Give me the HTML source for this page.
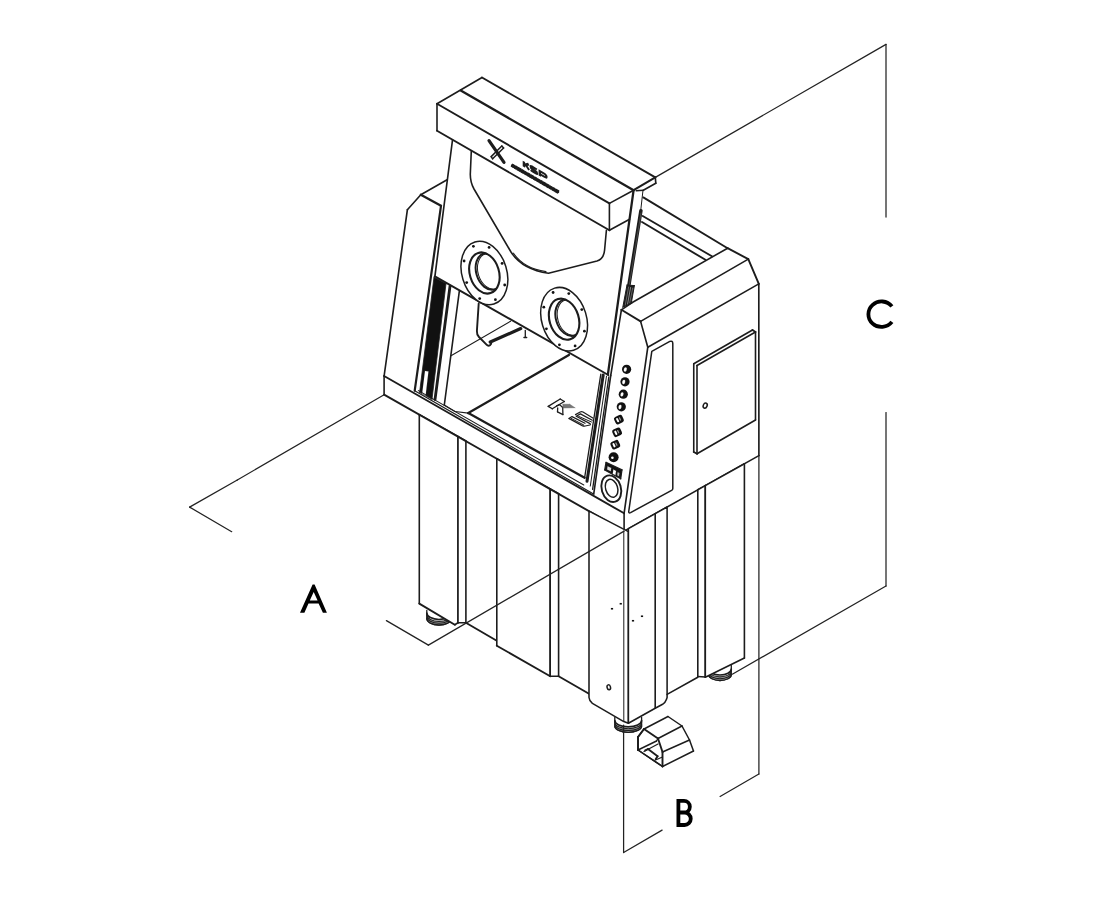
<!DOCTYPE html>
<html><head><meta charset="utf-8"><title>Dimensions</title>
<style>
html,body{margin:0;padding:0;background:#fff;}
body{width:1099px;height:900px;overflow:hidden;font-family:"Liberation Sans",sans-serif;}
svg{display:block}
</style></head><body>
<svg width="1099" height="900" viewBox="0 0 1099 900" fill="none" stroke="#1c1c1c" stroke-width="1.55" stroke-linecap="round" stroke-linejoin="round">
<line x1="437" y1="130.75" x2="437" y2="103.75" stroke-width="1.6"/>
<line x1="437" y1="103.75" x2="482" y2="77.5" stroke-width="1.6"/>
<line x1="482" y1="77.5" x2="655.3" y2="177.4" stroke-width="1.9"/>
<line x1="655.3" y1="177.4" x2="655.8" y2="183.2" stroke-width="1.65"/>
<line x1="655.8" y1="183.2" x2="643.3" y2="190.3" stroke-width="1.6"/>
<line x1="643.3" y1="190.3" x2="636.2" y2="190.8" stroke-width="1.5"/>
<line x1="437" y1="103.75" x2="609.4" y2="203.4" stroke-width="1.9"/>
<line x1="437" y1="130.75" x2="609.4" y2="230.3" stroke-width="1.9"/>
<line x1="609.4" y1="203.4" x2="609.4" y2="230.3" stroke-width="1.6"/>
<line x1="609.4" y1="203.4" x2="633.6" y2="190.2" stroke-width="1.6"/>
<line x1="633.6" y1="190.2" x2="655.3" y2="177.4" stroke-width="2.1"/>
<line x1="460.75" y1="90.5" x2="633.6" y2="190.2" stroke-width="2.3"/>
<line x1="609.4" y1="230.3" x2="629.6" y2="219.2" stroke-width="1.6"/>
<line x1="452.5" y1="140" x2="434.9" y2="276.4" stroke-width="1.65"/>
<line x1="434.9" y1="276.4" x2="608.3" y2="375" stroke-width="1.9"/>
<line x1="633.6" y1="190.2" x2="607.9" y2="374.4" stroke-width="2.3"/>
<line x1="642.9" y1="191" x2="640.7" y2="210.7" stroke-width="1.0"/>
<line x1="640.9" y1="210.7" x2="628.9" y2="285.3" stroke-width="3.5"/>
<line x1="641.0" y1="213" x2="629.3" y2="285.0" stroke-width="0.5" stroke="#777"/>
<polygon points="627.0,285.0 634.4,285.6 631.2,303.5 622.8,307.2" fill="#1a1a1a" stroke="none"/>
<line x1="627.0" y1="285.0" x2="634.4" y2="285.6" stroke-width="1.0"/>
<line x1="634.4" y1="285.6" x2="631.2" y2="303.5" stroke-width="1.0"/>
<line x1="631.2" y1="303.5" x2="622.8" y2="307.2" stroke-width="1.0"/>
<line x1="622.8" y1="307.2" x2="627.0" y2="285.0" stroke-width="1.0"/>
<line x1="630.6" y1="287.5" x2="627.6" y2="304.0" stroke-width="0.7" stroke="#bbb"/>
<line x1="632.7" y1="288.0" x2="629.7" y2="303.0" stroke-width="0.6" stroke="#999"/>
<line x1="628.6" y1="287.0" x2="625.3" y2="305.0" stroke-width="0.6" stroke="#999"/>
<path d="M471.3,151 L470.3,174 Q470.2,182 474,189 L511,252 Q522,269.5 548.5,273.2 L597,261 Q603.8,259 604.6,250 L606.4,230.3" stroke-width="1.6"/>
<path d="M513.5,253.2 Q523.3,268.2 546,271.6" stroke-width="1.1"/>
<line x1="447.1" y1="179.8" x2="420.8" y2="194.8" stroke-width="1.6"/>
<line x1="420.8" y1="194.8" x2="407.4" y2="209.7" stroke-width="1.6"/>
<line x1="407.4" y1="209.7" x2="384.1" y2="376" stroke-width="1.65"/>
<line x1="384.1" y1="376" x2="384.1" y2="394.7" stroke-width="1.6"/>
<line x1="420.8" y1="194.8" x2="441" y2="205.8" stroke-width="2.3"/>
<line x1="441" y1="205.8" x2="414.7" y2="390.7" stroke-width="2.2"/>
<line x1="643.3" y1="197.4" x2="727.6" y2="248.2" stroke-width="1.9"/>
<line x1="727.6" y1="248.2" x2="748.3" y2="259.1" stroke-width="1.9"/>
<line x1="642.7" y1="216" x2="711.9" y2="256.2" stroke-width="1.9"/>
<line x1="642" y1="222" x2="705.4" y2="259.8" stroke-width="1.9"/>
<line x1="621.4" y1="309.8" x2="631.8" y2="302.8" stroke-width="1.6"/>
<line x1="631.8" y1="302.8" x2="727.6" y2="248.2" stroke-width="1.6"/>
<line x1="621.4" y1="309.8" x2="640.6" y2="321.4" stroke-width="1.9"/>
<line x1="640.6" y1="321.4" x2="748.3" y2="259.1" stroke-width="1.6"/>
<line x1="748.3" y1="259.1" x2="758.8" y2="283.9" stroke-width="1.9"/>
<line x1="758.8" y1="283.9" x2="758.9" y2="455.6" stroke-width="1.65"/>
<line x1="640.6" y1="321.4" x2="647.8" y2="347.2" stroke-width="1.65"/>
<line x1="647.8" y1="347.2" x2="758.8" y2="283.9" stroke-width="1.6"/>
<line x1="647.8" y1="347.2" x2="624.1" y2="513.3" stroke-width="1.65"/>
<line x1="624.1" y1="513.3" x2="624.1" y2="531.1" stroke-width="1.6"/>
<line x1="624.1" y1="531.1" x2="758.9" y2="455.6" stroke-width="1.6"/>
<line x1="621.4" y1="309.8" x2="610.7" y2="375.6" stroke-width="1.65"/>
<line x1="610.7" y1="375.6" x2="593.75" y2="493.75" stroke-width="1.65"/>
<path d="M651.8,351.3 L669.8,341.4 Q672.7,340.4 672.8,343.6 L672.8,488.4 Q672.8,489.6 671.6,490.3 L630.6,512.6 Q628.4,513.6 628.8,511 Z" stroke-width="1.5"/>
<line x1="693.75" y1="363.75" x2="752.5" y2="330" stroke-width="1.6"/>
<line x1="752.5" y1="330" x2="755.5" y2="332" stroke-width="1.9"/>
<line x1="755.5" y1="332" x2="755.5" y2="420" stroke-width="1.6"/>
<line x1="755.5" y1="420" x2="697" y2="453.75" stroke-width="1.6"/>
<line x1="697" y1="453.75" x2="693.75" y2="452" stroke-width="1.9"/>
<line x1="693.75" y1="452" x2="693.75" y2="363.75" stroke-width="1.6"/>
<line x1="755.5" y1="332" x2="697" y2="365.5" stroke-width="1.6"/>
<line x1="697" y1="365.5" x2="697" y2="453.75" stroke-width="1.6"/>
<ellipse cx="705.2" cy="405.6" rx="1.9" ry="2.6" transform="rotate(25 705.2 405.6)" stroke-width="1.5"/>
<line x1="384.1" y1="376" x2="624.1" y2="513.3" stroke-width="1.9"/>
<line x1="384.1" y1="394.7" x2="624.1" y2="531.1" stroke-width="1.9"/>
<ellipse cx="484.4" cy="273.0" rx="22.4" ry="32.5" transform="rotate(-17 484.4 273.0)" stroke-width="1.5" fill="#fff"/>
<ellipse cx="484.4" cy="273.0" rx="14.6" ry="21.0" transform="rotate(-17 484.4 273.0)" stroke-width="2.1"/>
<clipPath id="cp484"><ellipse cx="484.4" cy="273.0" rx="14.6" ry="21.0" transform="rotate(-17 484.4 273.0)"/></clipPath>
<g clip-path="url(#cp484)">
<ellipse cx="489.4" cy="271.4" rx="13.2" ry="18.8" transform="rotate(-17 489.4 271.4)" stroke-width="2.0"/>
<ellipse cx="491.0" cy="271.3" rx="13.0" ry="18.3" transform="rotate(-17 491.0 271.3)" stroke-width="1.0"/>
</g>
<circle cx="502.1" cy="263.4" r="1.4" fill="#111" stroke="none"/>
<circle cx="504.7" cy="285.0" r="1.4" fill="#111" stroke="none"/>
<circle cx="495.4" cy="299.7" r="1.4" fill="#111" stroke="none"/>
<circle cx="479.7" cy="298.6" r="1.4" fill="#111" stroke="none"/>
<circle cx="466.7" cy="282.6" r="1.4" fill="#111" stroke="none"/>
<circle cx="464.1" cy="261.0" r="1.4" fill="#111" stroke="none"/>
<circle cx="473.4" cy="246.3" r="1.4" fill="#111" stroke="none"/>
<circle cx="489.1" cy="247.4" r="1.4" fill="#111" stroke="none"/>
<ellipse cx="564.1" cy="319.2" rx="22.4" ry="32.5" transform="rotate(-17 564.1 319.2)" stroke-width="1.5" fill="#fff"/>
<ellipse cx="564.1" cy="319.2" rx="14.6" ry="21.0" transform="rotate(-17 564.1 319.2)" stroke-width="2.1"/>
<clipPath id="cp564"><ellipse cx="564.1" cy="319.2" rx="14.6" ry="21.0" transform="rotate(-17 564.1 319.2)"/></clipPath>
<g clip-path="url(#cp564)">
<ellipse cx="569.1" cy="317.59999999999997" rx="13.2" ry="18.8" transform="rotate(-17 569.1 317.59999999999997)" stroke-width="2.0"/>
<ellipse cx="570.7" cy="317.5" rx="13.0" ry="18.3" transform="rotate(-17 570.7 317.5)" stroke-width="1.0"/>
</g>
<circle cx="581.8" cy="309.6" r="1.4" fill="#111" stroke="none"/>
<circle cx="584.4" cy="331.2" r="1.4" fill="#111" stroke="none"/>
<circle cx="575.1" cy="345.9" r="1.4" fill="#111" stroke="none"/>
<circle cx="559.4" cy="344.8" r="1.4" fill="#111" stroke="none"/>
<circle cx="546.4" cy="328.8" r="1.4" fill="#111" stroke="none"/>
<circle cx="543.8" cy="307.2" r="1.4" fill="#111" stroke="none"/>
<circle cx="553.1" cy="292.5" r="1.4" fill="#111" stroke="none"/>
<circle cx="568.8" cy="293.6" r="1.4" fill="#111" stroke="none"/>
<line x1="489.0" y1="140.6" x2="504.0" y2="162.4" stroke-width="3.2"/>
<line x1="491.2" y1="156.6" x2="501.8" y2="146.0" stroke-width="1.5"/>
<line x1="492.6" y1="158.8" x2="503.6" y2="148.0" stroke-width="1.5"/>
<line x1="491.2" y1="156.6" x2="492.6" y2="158.8" stroke-width="1.5"/>
<line x1="501.8" y1="146.0" x2="503.6" y2="148.0" stroke-width="1.5"/>
<g transform="matrix(1 0.577 0 1 523.2 166.6)" stroke-width="2.4" stroke-linecap="butt" stroke-linejoin="miter"><path d="M0.7,0 V-5.6 M0.7,-2.0 L5.6,-5.6 M2.4,-3.3 L5.9,0"/><path d="M13.6,-4.9 Q13.2,-5.1 11,-5.1 H9.2 Q7.6,-5.1 7.6,-3.9 Q7.6,-2.8 9.2,-2.8 H12.2 Q13.8,-2.8 13.8,-1.6 Q13.8,-0.5 12.2,-0.5 H10 Q8,-0.5 7.5,-0.8"/><path d="M16.6,0 V-5.1 H21 Q23.2,-5.1 23.2,-3.6 Q23.2,-2.1 21,-2.1 H16.6"/></g>
<line x1="512.2" y1="165.5" x2="558.0" y2="191.8" stroke-width="2.6"/>
<line x1="511.5" y1="165.0" x2="558.6" y2="192.2" stroke-width="3.6" stroke-dasharray="3.4 0.35 2.6 0.3 4.2 0.35 3 0.3" stroke-linecap="butt"/>
<polygon points="434.0,277.2 446.0,283.6 432.0,399.3 419.6,392.3" fill="#111" stroke="none"/>
<line x1="434.0" y1="277.2" x2="446.0" y2="283.6" stroke-width="0.8"/>
<line x1="446.0" y1="283.6" x2="432.0" y2="399.3" stroke-width="0.8"/>
<line x1="432.0" y1="399.3" x2="419.6" y2="392.3" stroke-width="0.8"/>
<line x1="419.6" y1="392.3" x2="434.0" y2="277.2" stroke-width="0.8"/>
<polygon points="425.0,371.0 428.4,371.5 425.6,395.5 422.2,393.8" fill="#fff" stroke="none"/>
<line x1="425.0" y1="371.0" x2="428.4" y2="371.5" stroke-width="0.1" stroke="#fff"/>
<line x1="428.4" y1="371.5" x2="425.6" y2="395.5" stroke-width="0.1" stroke="#fff"/>
<line x1="425.6" y1="395.5" x2="422.2" y2="393.8" stroke-width="0.1" stroke="#fff"/>
<line x1="422.2" y1="393.8" x2="425.0" y2="371.0" stroke-width="0.1" stroke="#fff"/>
<line x1="450.0" y1="286.2" x2="435.0" y2="399.5" stroke-width="2.8"/>
<line x1="459.3" y1="291.3" x2="444.3" y2="405.0" stroke-width="1.6"/>
<line x1="451.0" y1="355.7" x2="510.6" y2="321.2" stroke-width="1.1"/>
<path d="M478.7,303.5 L476.9,331 Q476.7,334.5 479,337 L486.5,344.7 Q488.2,346.6 490,345.3 L491.2,343.6" stroke-width="1.9"/>
<line x1="490.3" y1="342.0" x2="520.7" y2="328.6" stroke-width="3.3"/>
<line x1="525.3" y1="330.5" x2="525.3" y2="337.0" stroke-width="1.3"/>
<line x1="524.0" y1="337.6" x2="526.6" y2="337.6" stroke-width="1.5"/>
<line x1="468.3" y1="413.1" x2="568.9" y2="354.9" stroke-width="2.3"/>
<line x1="468.3" y1="413.1" x2="584.6" y2="477.8" stroke-width="2.3"/>
<line x1="584.6" y1="477.8" x2="600.8" y2="374.2" stroke-width="1.3"/>
<line x1="414.7" y1="390.7" x2="594.0" y2="494.2" stroke-width="1.15"/>
<line x1="418.4" y1="390.6" x2="583.8" y2="485.0" stroke-width="1.05"/>
<line x1="444.3" y1="405.0" x2="455" y2="411.5" stroke-width="1.1"/>
<line x1="455" y1="411.5" x2="468.3" y2="413.1" stroke-width="1.1"/>
<line x1="603.1999999999999" y1="375.03999999999996" x2="587.0" y2="481.28000000000003" stroke-width="3.0"/>
<line x1="606.5" y1="376.195" x2="590.3000000000001" y2="486.065" stroke-width="1.0"/>
<line x1="608.8" y1="377.0" x2="592.6" y2="489.40000000000003" stroke-width="1.3"/>
<circle cx="626.6" cy="369.3" r="4.6" fill="#111" stroke="none"/>
<ellipse cx="625.3000000000001" cy="369.5" rx="1.5" ry="2.2" transform="rotate(15 625.3000000000001 369.5)" stroke-width="0.1" fill="#fff"/>
<circle cx="625.0" cy="381.8" r="4.6" fill="#111" stroke="none"/>
<ellipse cx="623.7" cy="382.0" rx="1.5" ry="2.2" transform="rotate(15 623.7 382.0)" stroke-width="0.1" fill="#fff"/>
<circle cx="623.3" cy="394.2" r="4.6" fill="#111" stroke="none"/>
<ellipse cx="622.0" cy="394.4" rx="1.5" ry="2.2" transform="rotate(15 622.0 394.4)" stroke-width="0.1" fill="#fff"/>
<circle cx="621.3" cy="406.8" r="4.6" fill="#111" stroke="none"/>
<ellipse cx="620.0" cy="407.0" rx="1.5" ry="2.2" transform="rotate(15 620.0 407.0)" stroke-width="0.1" fill="#fff"/>
<rect x="614.5" y="415.6" width="8.8" height="8.0" rx="2.2" fill="#111" stroke="none" transform="rotate(-25 618.9 419.6)"/>
<rect x="616.5" y="417.3" width="2.0" height="4.4" rx="0.8" fill="#fff" stroke="none" transform="rotate(-25 618.9 419.6)"/>
<rect x="619.5" y="417.70000000000005" width="1.3" height="3.6" rx="0.6" fill="#999" stroke="none" transform="rotate(-25 618.9 419.6)"/>
<rect x="612.7" y="428.3" width="8.8" height="8.0" rx="2.2" fill="#111" stroke="none" transform="rotate(-25 617.1 432.3)"/>
<rect x="614.7" y="430.0" width="2.0" height="4.4" rx="0.8" fill="#fff" stroke="none" transform="rotate(-25 617.1 432.3)"/>
<rect x="617.7" y="430.40000000000003" width="1.3" height="3.6" rx="0.6" fill="#999" stroke="none" transform="rotate(-25 617.1 432.3)"/>
<rect x="610.9" y="440.7" width="8.8" height="8.0" rx="2.2" fill="#111" stroke="none" transform="rotate(-25 615.3 444.7)"/>
<rect x="612.9" y="442.4" width="2.0" height="4.4" rx="0.8" fill="#fff" stroke="none" transform="rotate(-25 615.3 444.7)"/>
<rect x="615.9" y="442.8" width="1.3" height="3.6" rx="0.6" fill="#999" stroke="none" transform="rotate(-25 615.3 444.7)"/>
<circle cx="613.6" cy="457.2" r="5.0" fill="#111" stroke="none"/>
<circle cx="612.4" cy="457.8" r="1.3" fill="#fff" stroke="none"/>
<polygon points="606,462.3 622,469.9 620.7,478.8 604.7,469.9" fill="#111" stroke="none"/>
<line x1="606" y1="462.3" x2="622" y2="469.9" stroke-width="1.2"/>
<line x1="622" y1="469.9" x2="620.7" y2="478.8" stroke-width="1.2"/>
<line x1="620.7" y1="478.8" x2="604.7" y2="469.9" stroke-width="1.2"/>
<line x1="604.7" y1="469.9" x2="606" y2="462.3" stroke-width="1.2"/>
<polygon points="607.6,466.2 611.2,467.9 610.7,471.2 607.1,469.5" fill="#ddd" stroke="none"/>
<line x1="607.6" y1="466.2" x2="611.2" y2="467.9" stroke-width="0.1" stroke="#ddd"/>
<line x1="611.2" y1="467.9" x2="610.7" y2="471.2" stroke-width="0.1" stroke="#ddd"/>
<line x1="610.7" y1="471.2" x2="607.1" y2="469.5" stroke-width="0.1" stroke="#ddd"/>
<line x1="607.1" y1="469.5" x2="607.6" y2="466.2" stroke-width="0.1" stroke="#ddd"/>
<polygon points="613.4,469.6 616.0,470.9 615.4,475.0 612.8,473.7" fill="#fff" stroke="none"/>
<line x1="613.4" y1="469.6" x2="616.0" y2="470.9" stroke-width="0.1" stroke="#fff"/>
<line x1="616.0" y1="470.9" x2="615.4" y2="475.0" stroke-width="0.1" stroke="#fff"/>
<line x1="615.4" y1="475.0" x2="612.8" y2="473.7" stroke-width="0.1" stroke="#fff"/>
<line x1="612.8" y1="473.7" x2="613.4" y2="469.6" stroke-width="0.1" stroke="#fff"/>
<polygon points="617.6,472.2 619.4,473.1 619.0,476.2 617.2,475.3" fill="#bbb" stroke="none"/>
<line x1="617.6" y1="472.2" x2="619.4" y2="473.1" stroke-width="0.1" stroke="#bbb"/>
<line x1="619.4" y1="473.1" x2="619.0" y2="476.2" stroke-width="0.1" stroke="#bbb"/>
<line x1="619.0" y1="476.2" x2="617.2" y2="475.3" stroke-width="0.1" stroke="#bbb"/>
<line x1="617.2" y1="475.3" x2="617.6" y2="472.2" stroke-width="0.1" stroke="#bbb"/>
<ellipse cx="611.3" cy="488.7" rx="9.6" ry="13.6" transform="rotate(-17 611.3 488.7)" stroke-width="1.9"/>
<ellipse cx="611.6" cy="488.3" rx="6.0" ry="9.2" transform="rotate(-17 611.6 488.3)" stroke-width="1.5"/>
<line x1="548.2" y1="406.4" x2="560.2" y2="399.0" stroke-width="1.3"/>
<line x1="560.2" y1="399.0" x2="564.3" y2="401.5" stroke-width="1.3"/>
<line x1="564.3" y1="401.5" x2="552.3" y2="408.8" stroke-width="1.3"/>
<line x1="552.3" y1="408.8" x2="548.2" y2="406.4" stroke-width="1.3"/>
<line x1="556.6" y1="405.9" x2="559.6" y2="404.6" stroke-width="1.3"/>
<line x1="559.6" y1="404.6" x2="562.7" y2="407.5" stroke-width="1.3"/>
<line x1="562.7" y1="407.5" x2="562.9" y2="414.6" stroke-width="1.3"/>
<line x1="562.9" y1="414.6" x2="557.5" y2="411.8" stroke-width="1.3"/>
<line x1="557.5" y1="411.8" x2="557.7" y2="408.0" stroke-width="1.3"/>
<polygon points="562.9,404.2 569.8,404.3 574.9,407.7 562.9,408.0" fill="#777" stroke="none"/>
<line x1="562.9" y1="404.2" x2="569.8" y2="404.3" stroke-width="0.4" stroke="#555"/>
<line x1="569.8" y1="404.3" x2="574.9" y2="407.7" stroke-width="0.4" stroke="#555"/>
<line x1="574.9" y1="407.7" x2="562.9" y2="408.0" stroke-width="0.4" stroke="#555"/>
<line x1="562.9" y1="408.0" x2="562.9" y2="404.2" stroke-width="0.4" stroke="#555"/>
<path d="M575.5,414.6 L580.2,412.0 Q581.6,411.4 583.0,412.0 L592.8,418.0" stroke-width="1.2"/>
<path d="M592.3,420.2 L580.4,413.9 L576.2,416.2 L590.0,423.6 Q590.8,424.3 590.0,425.0 L585.2,426.0 Q583.8,426.3 582.2,425.6 L568.8,418.4 L572.0,416.6 L585.0,423.3" stroke-width="1.2"/>
<path d="M578.6,416.3 L591.5,422.0" stroke-width="1.0"/>
<path d="M571.0,418.3 L583.6,424.9" stroke-width="1.0"/>
<path d="M426.8,610.5 L426.8,618.5 A12.2,6.5 0 0 0 451.2,618.5 L451.2,610.5" stroke-width="1.3" fill="#fff"/>
<path d="M426.8,614.9 A12.2,6.5 0 0 0 451.2,614.9 L451.2,618.5 A12.2,6.5 0 0 1 426.8,618.5 Z" stroke-width="0.1" fill="#9a9a9a" stroke="#9a9a9a"/>
<path d="M426.8,613.0 A12.2,6.5 0 0 0 451.2,613.0" stroke-width="1.7"/>
<path d="M426.8,614.9 A12.2,6.5 0 0 0 451.2,614.9" stroke-width="1.1"/>
<path d="M426.8,616.7 A12.2,6.5 0 0 0 451.2,616.7" stroke-width="1.1"/>
<path d="M426.8,618.5 A12.2,6.5 0 0 0 451.2,618.5" stroke-width="1.3"/>
<path d="M614.8000000000001,717.5 L614.8000000000001,726.0 A13.4,6.3 0 0 0 641.6,726.0 L641.6,717.5" stroke-width="1.3" fill="#fff"/>
<path d="M614.8000000000001,722.4 A13.4,6.3 0 0 0 641.6,722.4 L641.6,726.0 A13.4,6.3 0 0 1 614.8000000000001,726.0 Z" stroke-width="0.1" fill="#9a9a9a" stroke="#9a9a9a"/>
<path d="M614.8000000000001,720.5 A13.4,6.3 0 0 0 641.6,720.5" stroke-width="1.7"/>
<path d="M614.8000000000001,722.4 A13.4,6.3 0 0 0 641.6,722.4" stroke-width="1.1"/>
<path d="M614.8000000000001,724.2 A13.4,6.3 0 0 0 641.6,724.2" stroke-width="1.1"/>
<path d="M614.8000000000001,726.0 A13.4,6.3 0 0 0 641.6,726.0" stroke-width="1.3"/>
<path d="M708.7,665.5 L708.7,674.5 A11.3,6.0 0 0 0 731.3,674.5 L731.3,665.5" stroke-width="1.3" fill="#fff"/>
<path d="M708.7,670.9 A11.3,6.0 0 0 0 731.3,670.9 L731.3,674.5 A11.3,6.0 0 0 1 708.7,674.5 Z" stroke-width="0.1" fill="#9a9a9a" stroke="#9a9a9a"/>
<path d="M708.7,669.0 A11.3,6.0 0 0 0 731.3,669.0" stroke-width="1.7"/>
<path d="M708.7,670.9 A11.3,6.0 0 0 0 731.3,670.9" stroke-width="1.1"/>
<path d="M708.7,672.7 A11.3,6.0 0 0 0 731.3,672.7" stroke-width="1.1"/>
<path d="M708.7,674.5 A11.3,6.0 0 0 0 731.3,674.5" stroke-width="1.3"/>
<polygon points="419.3,414.70416 419.3,603.6 454.8,624.7 458.0,622.8 458.0,436.69737" fill="#fff" stroke="none"/>
<line x1="419.3" y1="414.70416" x2="419.3" y2="603.6" stroke-width="1.6"/>
<line x1="419.3" y1="603.6" x2="454.8" y2="624.7" stroke-width="1.9"/>
<line x1="454.8" y1="624.7" x2="458.0" y2="622.8" stroke-width="1.6"/>
<line x1="458.0" y1="622.8" x2="458.0" y2="436.69737" stroke-width="1.6"/>
<line x1="458.0" y1="436.69737" x2="419.3" y2="414.70416" stroke-width="1.9"/>
<polygon points="458.0,436.69737 458.0,622.8 465.9,622.8 465.9,441.18693999999994" fill="#fff" stroke="none"/>
<line x1="458.0" y1="436.69737" x2="458.0" y2="622.8" stroke-width="1.6"/>
<line x1="458.0" y1="622.8" x2="465.9" y2="622.8" stroke-width="1.5"/>
<line x1="465.9" y1="622.8" x2="465.9" y2="441.18693999999994" stroke-width="1.6"/>
<line x1="465.9" y1="441.18693999999994" x2="458.0" y2="436.69737" stroke-width="1.9"/>
<line x1="465.9" y1="622.8" x2="496.8" y2="640.8" stroke-width="1.9"/>
<polygon points="496.8,458.74741 496.8,645.7 550.2,676.2 550.2,489.09463" fill="#fff" stroke="none"/>
<line x1="496.8" y1="458.74741" x2="496.8" y2="645.7" stroke-width="1.6"/>
<line x1="496.8" y1="645.7" x2="550.2" y2="676.2" stroke-width="1.9"/>
<line x1="550.2" y1="676.2" x2="550.2" y2="489.09463" stroke-width="1.6"/>
<line x1="550.2" y1="489.09463" x2="496.8" y2="458.74741" stroke-width="1.9"/>
<polygon points="550.2,489.09463 550.2,676.2 558.6,676.2 558.6,493.86834999999996" fill="#fff" stroke="none"/>
<line x1="550.2" y1="489.09463" x2="550.2" y2="676.2" stroke-width="1.6"/>
<line x1="550.2" y1="676.2" x2="558.6" y2="676.2" stroke-width="1.5"/>
<line x1="558.6" y1="676.2" x2="558.6" y2="493.86834999999996" stroke-width="1.6"/>
<line x1="558.6" y1="493.86834999999996" x2="550.2" y2="489.09463" stroke-width="1.9"/>
<line x1="558.6" y1="676.2" x2="589.0" y2="693.7" stroke-width="1.9"/>
<path d="M589.0,511.14466999999996 L589.0,697.5 Q589.3,701 592.4,703.4 L623.8,721.6 L628.4,723.3 L628.4,531.592 Z" fill="#fff"/>
<path d="M628.4,528.6915700000001 L628.4,723.3 L655.2,708.2 L662.6,704.3 Q665.4,702.6 666.4,699.6 L667.1,697.4 L667.1,507.01570000000004 Z" fill="#fff"/>
<line x1="655.2" y1="513.68089" x2="655.2" y2="708.2" stroke-width="1.6"/>
<line x1="623.8" y1="530.9215099999999" x2="623.8" y2="721.6" stroke-width="1.0"/>
<line x1="667.1" y1="694.4" x2="697.8" y2="677.3" stroke-width="1.6"/>
<polygon points="697.8,489.82063000000005 697.8,676.6 705.3,677.0 705.3,485.6198800000001" fill="#fff" stroke="none"/>
<line x1="697.8" y1="489.82063000000005" x2="697.8" y2="676.6" stroke-width="1.6"/>
<line x1="697.8" y1="676.6" x2="705.3" y2="677.0" stroke-width="1.5"/>
<line x1="705.3" y1="677.0" x2="705.3" y2="485.6198800000001" stroke-width="1.6"/>
<line x1="705.3" y1="485.6198800000001" x2="697.8" y2="489.82063000000005" stroke-width="1.6"/>
<polygon points="705.3,485.6198800000001 705.3,677.2 744.4,658.0 744.4,463.71997000000005" fill="#fff" stroke="none"/>
<line x1="705.3" y1="485.6198800000001" x2="705.3" y2="677.2" stroke-width="1.6"/>
<line x1="705.3" y1="677.2" x2="744.4" y2="658.0" stroke-width="1.6"/>
<line x1="744.4" y1="658.0" x2="744.4" y2="463.71997000000005" stroke-width="1.6"/>
<line x1="744.4" y1="463.71997000000005" x2="705.3" y2="485.6198800000001" stroke-width="1.6"/>
<ellipse cx="608.8" cy="687.3" rx="1.7" ry="2.5" transform="rotate(-14 608.8 687.3)" stroke-width="1.5"/>
<rect x="610.9" y="607.95" width="2.2" height="1.6" fill="#111" stroke="none"/>
<rect x="619.65" y="602.95" width="2.2" height="1.6" fill="#111" stroke="none"/>
<rect x="631.9" y="619.95" width="2.2" height="1.6" fill="#111" stroke="none"/>
<rect x="640.9" y="615.45" width="2.2" height="1.6" fill="#111" stroke="none"/>
<polygon points="638,750 638,737 644,729 668,716.5 682,726 689.5,740 693.5,751 662.5,766.5" fill="#fff" stroke="none"/>
<line x1="638" y1="750" x2="638" y2="737" stroke-width="1.5"/>
<line x1="638" y1="737" x2="644" y2="729" stroke-width="1.5"/>
<line x1="644" y1="729" x2="668" y2="716.5" stroke-width="1.5"/>
<line x1="668" y1="716.5" x2="682" y2="726" stroke-width="1.5"/>
<line x1="682" y1="726" x2="689.5" y2="740" stroke-width="1.5"/>
<line x1="689.5" y1="740" x2="693.5" y2="751" stroke-width="1.5"/>
<line x1="693.5" y1="751" x2="662.5" y2="766.5" stroke-width="1.5"/>
<line x1="662.5" y1="766.5" x2="638" y2="750" stroke-width="1.5"/>
<line x1="638" y1="750" x2="638" y2="737" stroke-width="1.9"/>
<line x1="638" y1="737" x2="644" y2="729" stroke-width="1.9"/>
<line x1="644" y1="729" x2="658" y2="738.5" stroke-width="1.9"/>
<line x1="658" y1="738.5" x2="662.5" y2="752" stroke-width="1.9"/>
<line x1="662.5" y1="752" x2="662.5" y2="766.5" stroke-width="1.9"/>
<line x1="658" y1="738.5" x2="682" y2="726" stroke-width="1.5"/>
<line x1="662.5" y1="752" x2="689.5" y2="740" stroke-width="1.5"/>
<line x1="638" y1="750" x2="656.5" y2="741" stroke-width="1.4"/>
<line x1="656.5" y1="741" x2="658" y2="738.5" stroke-width="1.4"/>
<line x1="644" y1="751.5" x2="658" y2="744" stroke-width="1.2"/>
<line x1="645.2" y1="750.4" x2="648" y2="749" stroke-width="1.9"/>
<line x1="648" y1="749" x2="657.6" y2="756.2" stroke-width="1.9"/>
<line x1="657.6" y1="756.2" x2="655.6" y2="759.2" stroke-width="1.9"/>
<line x1="638" y1="750" x2="662.5" y2="766.5" stroke-width="1.5"/>
<line x1="655.5" y1="760" x2="662.5" y2="757" stroke-width="1.2"/>
<line x1="655.3" y1="177.4" x2="886.0" y2="44.4" stroke-width="1.25" stroke="#222"/>
<line x1="886.0" y1="44.4" x2="886.0" y2="217" stroke-width="1.25" stroke="#222"/>
<line x1="886.0" y1="412.6" x2="886.0" y2="586.0" stroke-width="1.25" stroke="#222"/>
<line x1="886.0" y1="586.0" x2="732.3" y2="674.2" stroke-width="1.25" stroke="#222"/>
<line x1="237.3" y1="480" x2="189.6" y2="507.1" stroke-width="1.25" stroke="#222"/>
<line x1="189.6" y1="507.1" x2="231.7" y2="531.7" stroke-width="1.25" stroke="#222"/>
<line x1="237.3" y1="480" x2="384.1" y2="394.7" stroke-width="1.25" stroke="#222"/>
<line x1="386.4" y1="620.6" x2="428.4" y2="645.1" stroke-width="1.25" stroke="#222"/>
<line x1="428.4" y1="645.1" x2="624.1" y2="531.1" stroke-width="1.25" stroke="#222"/>
<line x1="623.6" y1="725" x2="623.6" y2="852.5" stroke-width="1.25" stroke="#222"/>
<line x1="623.6" y1="852.5" x2="662.1" y2="830.1" stroke-width="1.25" stroke="#222"/>
<line x1="758.9" y1="455.6" x2="758.9" y2="774" stroke-width="1.25" stroke="#222"/>
<line x1="758.9" y1="774" x2="720.1" y2="796.5" stroke-width="1.25" stroke="#222"/>
<path d="M300,612.8 L312.6,584.4 L314.6,584.4 L326.9,612.8 L322.9,612.8 L318.6,603.6 L308.5,603.6 L304.4,612.8 Z M309.8,600.6 L317.6,600.6 L313.7,591.9 Z" fill="#000" fill-rule="evenodd" stroke="none"/>
<path d="M678.4,812.5 H684.5 A6.25,6.25 0 0 1 684.5,825 H678.4 V800.8 H684 A5.85,5.85 0 0 1 684,812.5" fill="none" stroke="#000" stroke-width="3.8" stroke-linejoin="miter" stroke-linecap="butt"/>
<path d="M891.9,306.45 A13.1,12.75 0 1 0 891.9,321.95" fill="none" stroke="#000" stroke-width="3.8" stroke-linecap="butt"/>
</svg>
</body></html>
